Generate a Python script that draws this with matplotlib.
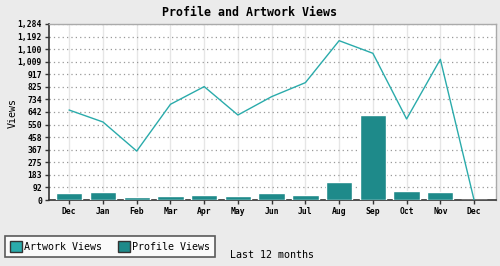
import matplotlib
matplotlib.use("Agg")
import matplotlib.pyplot as plt
from matplotlib.patches import Patch
import numpy as np

months = ["Dec", "Jan", "Feb", "Mar", "Apr", "May", "Jun", "Jul", "Aug", "Sep", "Oct", "Nov", "Dec"]
artwork_views = [656, 569, 357, 698, 827, 620, 754, 856, 1162, 1070, 591, 1026, 0]
profile_views = [49, 61, 24, 31, 39, 31, 53, 39, 134, 620, 68, 61, 0]
y_ticks = [0, 92, 183, 275, 367, 458, 550, 642, 734, 825, 917, 1009, 1100, 1192, 1284]
y_tick_labels = ["0", "92", "183", "275", "367", "458", "550", "642", "734", "825", "917",
                 "1,009", "1,100", "1,192", "1,284"]

line_color = "#2aabab"
bar_color = "#1e8a8a"
bg = "#ebebeb"

plt.rcParams["font.family"] = ["DejaVu Sans Mono"]

fig = plt.figure(figsize=(5.0, 2.66), dpi=100, facecolor=bg)
ax = fig.add_axes([0.098, 0.248, 0.894, 0.662])
ax.set_facecolor("white")

x = np.arange(len(months))
ax.bar(x, profile_views, width=0.78, color=bar_color, edgecolor="white", linewidth=1.0, zorder=3)
ax.plot(x, artwork_views, color=line_color, linewidth=1.0, zorder=4)

ax.set_xlim(-0.6, len(months) - 1 + 0.65)
ax.set_ylim(0, 1284)
ax.set_yticks(y_ticks)
ax.set_yticklabels(y_tick_labels, fontsize=5.8, fontweight="bold")
ax.set_xticks(x)
ax.set_xticklabels(months, fontsize=5.8, fontweight="bold")

ax.yaxis.grid(True, linestyle=(0, (1, 2.5)), color="#999999", linewidth=0.9, zorder=1)
ax.xaxis.grid(True, linestyle="-", color="#e6e6e6", linewidth=1.0, zorder=1)
ax.set_axisbelow(True)

for s in ["top", "right"]:
    ax.spines[s].set_color("#aaaaaa")
    ax.spines[s].set_linewidth(1.0)
for s in ["left", "bottom"]:
    ax.spines[s].set_color("#333333")
    ax.spines[s].set_linewidth(1.2)
ax.tick_params(axis="both", direction="out", length=3, width=1, color="#333333", pad=2)

fig.text(0.026, 0.575, "Views", rotation=90, ha="center", va="center", fontsize=7.2)
fig.text(0.5, 0.953, "Profile and Artwork Views", ha="center", va="center",
         fontsize=8.4, fontweight="bold")
fig.text(0.46, 0.04, "Last 12 months", ha="left", va="center", fontsize=7.2)

handles = [Patch(facecolor=line_color, edgecolor="#333333", label="Artwork Views"),
           Patch(facecolor=bar_color, edgecolor="#333333", label="Profile Views")]
leg = fig.legend(handles=handles, loc="lower left", bbox_to_anchor=(0.01, 0.035),
                 ncol=2, fontsize=7.2, frameon=True, fancybox=False,
                 handlelength=1.2, handleheight=1.4, handletextpad=0.3,
                 columnspacing=1.5, borderpad=0.45, borderaxespad=0.0)
leg.get_frame().set_edgecolor("#333333")
leg.get_frame().set_linewidth(1.2)
leg.get_frame().set_facecolor("white")

fig.savefig("out.png", dpi=100, facecolor=bg)
